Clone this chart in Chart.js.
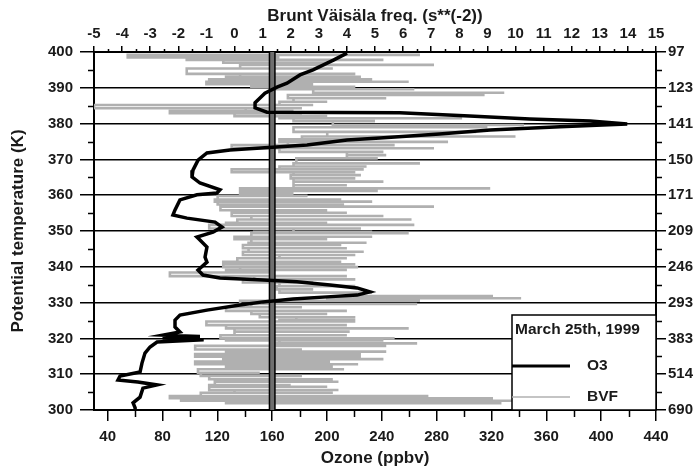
<!DOCTYPE html>
<html>
<head>
<meta charset="utf-8">
<script src="https://cdn.jsdelivr.net/npm/chart.js@4.4.1/dist/chart.umd.min.js"></script>
<style>
  html, body { margin: 0; padding: 0; background: #fff; }
</style>
</head>
<body>
<canvas id="ozoneChart" width="696" height="471"></canvas>
<script>
// ozone profile (ppbv) against potential temperature (K)
var ozoneTheta = [
  399.7, 397.8, 395.0, 393.6, 391.3, 390.2, 388.5, 385.8, 384.4, 383.2,
  383.0, 382.1, 381.3, 380.7, 379.9, 379.1, 378.2, 377.1, 376.0, 375.4,
  374.0, 373.5, 372.6, 371.8, 369.8, 367.0, 365.1, 363.4, 361.5, 360.6,
  360.1, 358.7, 355.9, 354.5, 353.6, 352.5, 351.1, 349.7, 348.3, 347.5,
  345.5, 342.7, 341.3, 339.1, 337.7, 336.9, 336.3, 335.8, 334.9, 334.1,
  333.0, 332.1, 331.6, 331.0, 330.2, 329.3, 327.9, 326.5, 325.1, 323.2,
  321.8, 320.9, 320.5, 320.1, 319.6, 319.0, 317.6, 315.9, 313.1, 310.6,
  309.5, 308.4, 307.8, 307.0, 306.1, 303.6, 302.0, 300.6, 300.0
];
var ozoneValue = [
  214.6, 205, 189.8, 180.3, 170.8, 163.5, 154.7, 147.5, 147.5, 156.2,
  253, 304, 348, 392, 419, 370, 319, 282, 238.6, 214.6,
  185.4, 165.7, 129.2, 112.4, 105.9, 102.2, 101.5, 107.3, 121.9, 119.7,
  105.1, 92.7, 89.1, 87.6, 97.8, 118.3, 123.4, 116.8, 105.1, 107.3,
  112.4, 111, 112.4, 105.9, 109.5, 121.9, 153.3, 178.1, 202.2, 221.9,
  231.3, 221.9, 200, 175.2, 153.3, 136.5, 112.4, 92.7, 89.1, 89.1,
  92.7, 80.3, 107.3, 80, 110, 76, 70.9, 67.2, 65, 63.6,
  49, 47.5, 62, 76, 65.7, 63.6, 58.5, 60, 60
];

// Brunt-Vaisala frequency: each level swings between a low and a high value
var bvfTheta = [
  399.2, 398.5, 397.8, 397.0, 396.4, 395.4, 393.9, 393.1, 392.4, 391.7,
  391.0, 390.3, 389.6, 388.6, 388.0, 387.1, 386.1, 385.2, 384.3, 383.5,
  382.9, 382.1, 381.5, 380.7, 379.6, 379.0, 377.7, 376.4, 375.6,
  374.9, 374.0, 373.1, 372.1, 371.2, 370.3, 368.9, 368.0, 367.2, 366.4,
  365.6, 364.7, 363.8, 362.8, 361.9, 361.2, 360.5, 359.8, 358.8, 358.2,
  357.4, 356.8, 355.8, 355.1, 354.2, 353.2, 352.3, 351.7, 350.7,
  349.8, 349.4, 348.4, 347.7, 346.7, 346.1, 345.2, 344.2, 343.3, 342.4,
  341.4, 340.7, 339.9, 339.1, 338.4, 337.4, 336.5, 335.6, 334.6, 333.7,
  332.8, 331.8, 331.2, 330.5, 329.6, 328.7, 327.7, 326.8, 325.9, 325.1,
  324.7, 323.7, 322.8, 321.9, 320.9, 320.0, 319.4, 318.6, 317.9, 316.9,
  316.3, 315.6, 314.9, 314.2, 313.5, 312.8, 312.1, 311.4, 310.4, 309.5,
  308.6, 307.9, 307.0, 306.5, 305.6, 304.8, 303.9, 303.3, 302.6, 301.9
];
var bvfLow = [
  -3.8, -3.8, -1.7, -0.4, 0.2, 0.2, -1.7, 0.2, -0.3, -0.9,
  -1.0, 0.6, 1.4, 2.8, 3.3, 1.9, 2.1, 1.6, -5.0, 0.4,
  -2.3, 0.0, 1.6, 2.1, 3.5, 4.5, 2.1, 3.3, 2.4,
  1.6, 1.9, -0.1, 1.6, 4.0, 4.0, 2.2, 2.1, 1.6, -0.1,
  2.1, 2.0, 2.1, 2.1, 2.1, 0.2, 0.3, 0.2, -0.6, -0.7,
  -0.6, 0.1, -0.5, 0.7, -0.1, 0.6, 0.1, -0.3, -0.9,
  2.1, 0.7, 0.6, 0.0, 0.6, 0.5, 0.3, 0.5, 0.3, 1.6,
  0.1, -0.4, -0.4, 0.2, -0.3, -2.3, 0.7, 0.3, 1.6, 1.5,
  1.6, 4.0, 4.3, 3.3, 0.2, 0.6, -0.3, 0.6, 0.9, 2.2,
  1.6, -1.0, -0.3, 0.0, 0.0, -0.5, -0.3, 1.6, 1.4, -1.4,
  -0.3, 0.2, -1.4, 1.4, -0.4, -1.4, -0.3, 0.0, -1.3, -1.2,
  -0.9, -0.1, -0.7, -0.9, -0.9, 0.0, -1.2, -2.3, -1.9, -0.3
];
var bvfHigh = [
  6.6, 1.6, 5.3, 3.3, 7.1, 3.5, 4.3, 4.5, 4.9, 6.2,
  2.8, 4.3, 6.4, 9.6, 8.9, 5.4, 3.3, 2.8, 2.4, 2.1,
  2.4, 3.3, 8.1, 5.0, 10.3, 9.0, 8.6, 10.0, 4.3,
  7.6, 5.7, 7.1, 5.3, 5.4, 5.1, 6.6, 4.7, 4.6, 4.3,
  4.5, 4.3, 5.3, 4.0, 9.1, 5.1, 2.1, 2.6, 3.8, 4.9,
  3.9, 7.1, 3.3, 4.0, 5.3, 6.3, 3.3, 6.4, 4.5,
  4.9, 6.2, 4.9, 3.3, 4.7, 3.8, 4.0, 4.6, 4.3, 4.0,
  3.8, 4.3, 4.4, 4.0, 1.4, 4.0, 4.3, 2.8, 4.3, 2.8,
  4.9, 9.2, 10.2, 6.6, 6.5, 2.4, 4.0, 3.3, 4.3, 4.3,
  4.3, 4.0, 6.2, 4.1, 4.0, 5.7, 5.3, 6.5, 5.4, 2.4,
  5.4, 4.5, 4.5, 5.3, 3.4, 4.4, 3.5, 3.9, 0.9, 2.4,
  3.5, 3.7, 2.0, 3.3, 3.7, 3.5, 6.9, 9.2, 10.0, 9.5
];

// reference line at 160 ppbv
var refOzone = 160;

// axis ticks
var ozoneTicks = [40, 80, 120, 160, 200, 240, 280, 320, 360, 400, 440];
var bvfTicks = [-5, -4, -3, -2, -1, 0, 1, 2, 3, 4, 5, 6, 7, 8, 9, 10, 11, 12, 13, 14, 15];
var thetaTicks = [300, 310, 320, 330, 340, 350, 360, 370, 380, 390, 400];
var pressureLabels = [690, 514, 383, 293, 246, 209, 171, 150, 141, 123, 97];

var FONT = "'Liberation Sans', Arial, sans-serif";
var TEXT = '#1a1a1a';
var BVF_GREY = '#b0b0b0';

var ozonePoints = ozoneTheta.map(function(t, i) {
  return { x: ozoneValue[i], y: t };
});

// the BVF trace runs low -> high at every level, then steps down to the next level
var bvfPoints = [];
bvfTheta.forEach(function(t, i) {
  bvfPoints.push({ x: bvfLow[i], y: t });
  bvfPoints.push({ x: bvfHigh[i], y: t });
});

var refPoints = [{ x: refOzone, y: 300 }, { x: refOzone, y: 400 }];

function fixTicks(list) {
  return function(scale) {
    scale.ticks = list.map(function(v) { return { value: v }; });
  };
}

// minor tick marks outside the plot frame
var minorTicks = {
  id: 'minorTicks',
  afterDraw: function(chart) {
    var ctx = chart.ctx;
    var s = chart.scales;
    var area = chart.chartArea;
    ctx.save();
    ctx.strokeStyle = '#000';
    ctx.lineWidth = 1.5;
    ctx.beginPath();
    for (var t = 305; t < 400; t += 10) {
      var py = Math.round(s.y.getPixelForValue(t)) + 0.5;
      ctx.moveTo(area.left - 6, py); ctx.lineTo(area.left, py);
      ctx.moveTo(area.right, py); ctx.lineTo(area.right + 6, py);
    }
    for (var o = 60; o < 440; o += 40) {
      var px = Math.round(s.x.getPixelForValue(o)) + 0.5;
      ctx.moveTo(px, area.bottom); ctx.lineTo(px, area.bottom + 7);
    }
    for (var b = -4.5; b < 15; b += 1) {
      var bx = Math.round(s.x2.getPixelForValue(b)) + 0.5;
      ctx.moveTo(bx, area.top); ctx.lineTo(bx, area.top - 3);
    }
    ctx.stroke();
    ctx.restore();
  }
};

// legend box in the lower right corner
var legendBox = {
  id: 'legendBox',
  afterDatasetsDraw: function(chart) {
    var ctx = chart.ctx;
    var area = chart.chartArea;
    var left = 512, top = 315;
    ctx.save();
    ctx.fillStyle = '#fff';
    ctx.fillRect(left, top, area.right - left, area.bottom - top);
    ctx.strokeStyle = '#000';
    ctx.lineWidth = 1.5;
    ctx.strokeRect(left, top, area.right - left, area.bottom - top);

    ctx.fillStyle = TEXT;
    ctx.font = 'bold 15.5px ' + FONT;
    ctx.textBaseline = 'middle';
    ctx.textAlign = 'left';
    ctx.fillText('March 25th, 1999', left + 3, top + 15);

    ctx.strokeStyle = '#000';
    ctx.lineWidth = 3;
    ctx.beginPath();
    ctx.moveTo(left, 366); ctx.lineTo(570, 366);
    ctx.stroke();
    ctx.fillText('O3', 587, 366);

    ctx.strokeStyle = BVF_GREY;
    ctx.lineWidth = 1.5;
    ctx.beginPath();
    ctx.moveTo(left, 397); ctx.lineTo(570, 397);
    ctx.stroke();
    ctx.fillText('BVF', 587, 397);
    ctx.restore();
  }
};

var tickFont = { family: FONT, size: 15, weight: 'bold' };
var titleFont = { family: FONT, size: 17, weight: 'bold' };

var ozoneChart = new Chart(document.getElementById('ozoneChart'), {
  type: 'scatter',
  data: {
    datasets: [{
      label: 'O3',
      data: ozonePoints,
      xAxisID: 'x',
      yAxisID: 'y',
      showLine: true,
      borderColor: '#000',
      borderWidth: 3.5,
      pointRadius: 0,
      tension: 0,
      order: 0
    }, {
      label: 'ref',
      data: refPoints,
      xAxisID: 'x',
      yAxisID: 'y',
      showLine: true,
      borderColor: '#6f6f6f',
      borderWidth: 4,
      pointRadius: 0,
      order: 1
    }, {
      label: 'ref outline',
      data: refPoints,
      xAxisID: 'x',
      yAxisID: 'y',
      showLine: true,
      borderColor: '#000',
      borderWidth: 7,
      pointRadius: 0,
      order: 2
    }, {
      label: 'BVF',
      data: bvfPoints,
      xAxisID: 'x2',
      yAxisID: 'y',
      showLine: true,
      stepped: 'before',
      borderColor: BVF_GREY,
      borderWidth: 2.6,
      borderCapStyle: 'butt',
      borderJoinStyle: 'miter',
      pointRadius: 0,
      order: 3
    }]
  },
  options: {
    responsive: false,
    animation: false,
    layout: { padding: 0 },
    plugins: {
      legend: { display: false },
      tooltip: { enabled: false }
    },
    scales: {
      x: {
        type: 'linear',
        position: 'bottom',
        min: 30,
        max: 440,
        afterBuildTicks: fixTicks(ozoneTicks),
        afterFit: function(s) { s.height = 61; },
        grid: { drawOnChartArea: false, color: '#000', lineWidth: 1.5, tickLength: 11 },
        border: { color: '#000', width: 2 },
        ticks: { font: tickFont, color: TEXT, padding: 7, maxRotation: 0, autoSkip: false },
        title: { display: true, text: 'Ozone (ppbv)', font: titleFont, color: TEXT, padding: { top: 0, bottom: 2 } }
      },
      x2: {
        type: 'linear',
        position: 'top',
        min: -5,
        max: 15,
        afterBuildTicks: fixTicks(bvfTicks),
        afterFit: function(s) { s.height = 52; },
        grid: { drawOnChartArea: false, color: '#000', lineWidth: 1.5, tickLength: 6 },
        border: { color: '#000', width: 2 },
        ticks: { font: tickFont, color: TEXT, padding: 3, maxRotation: 0, autoSkip: false },
        title: { display: true, text: 'Brunt Väisäla freq. (s**(-2))', font: titleFont, color: TEXT, padding: { top: 6, bottom: 0 } }
      },
      y: {
        type: 'linear',
        position: 'left',
        min: 300,
        max: 400,
        afterBuildTicks: fixTicks(thetaTicks),
        afterFit: function(s) { s.width = 94; },
        grid: { color: '#000', lineWidth: 1.5, tickLength: 14 },
        border: { color: '#000', width: 2 },
        ticks: { font: tickFont, color: TEXT, padding: 7, autoSkip: false },
        title: { display: true, text: 'Potential temperature (K)', font: titleFont, color: TEXT, padding: { top: 8, bottom: 0 } }
      },
      y2: {
        type: 'linear',
        position: 'right',
        min: 300,
        max: 400,
        afterBuildTicks: fixTicks(thetaTicks),
        afterFit: function(s) { s.width = 40; },
        grid: { drawOnChartArea: false, color: '#000', lineWidth: 1.5, tickLength: 10 },
        border: { color: '#000', width: 2 },
        ticks: {
          font: tickFont,
          color: TEXT,
          padding: 2,
          autoSkip: false,
          callback: function(value) {
            return pressureLabels[thetaTicks.indexOf(value)];
          }
        }
      }
    }
  },
  plugins: [minorTicks, legendBox]
});
</script>
</body>
</html>
